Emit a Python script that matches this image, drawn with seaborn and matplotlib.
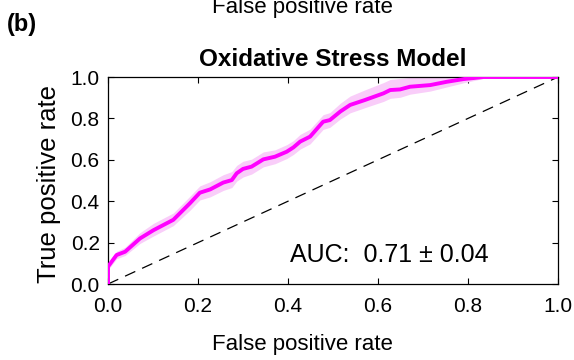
import matplotlib
matplotlib.use("Agg")
import matplotlib.pyplot as plt
import seaborn as sns
import pandas as pd

# Mean ROC curve of the oxidative stress model with its spread across folds
fpr = [0.0, 0.0, 0.019, 0.038, 0.071, 0.101, 0.145, 0.182, 0.204, 0.227, 0.256, 0.275,
       0.286, 0.300, 0.319, 0.345, 0.371, 0.397, 0.412, 0.427, 0.449, 0.478, 0.493,
       0.516, 0.538, 0.571, 0.612, 0.627, 0.649, 0.671, 0.716, 0.753, 0.790, 0.834, 1.0]
tpr = [0.0, 0.084, 0.140, 0.156, 0.220, 0.260, 0.310, 0.390, 0.441, 0.457, 0.490, 0.502,
       0.535, 0.556, 0.567, 0.602, 0.615, 0.639, 0.660, 0.688, 0.712, 0.784, 0.792,
       0.833, 0.865, 0.889, 0.921, 0.937, 0.940, 0.953, 0.961, 0.977, 0.990, 1.0, 1.0]
tpr_low = [0.0, 0.068, 0.122, 0.138, 0.196, 0.232, 0.282, 0.356, 0.406, 0.421, 0.452, 0.466,
           0.497, 0.517, 0.531, 0.566, 0.581, 0.606, 0.626, 0.652, 0.677, 0.747, 0.757,
           0.797, 0.827, 0.852, 0.882, 0.897, 0.902, 0.917, 0.932, 0.952, 0.972, 0.993, 1.0]
tpr_high = [0.0, 0.102, 0.158, 0.178, 0.248, 0.293, 0.343, 0.424, 0.474, 0.494, 0.528, 0.543,
            0.573, 0.593, 0.603, 0.638, 0.648, 0.673, 0.693, 0.723, 0.748, 0.818, 0.828,
            0.873, 0.908, 0.938, 0.973, 0.988, 0.993, 0.998, 1.0, 1.0, 1.0, 1.0, 1.0]
chance = [0.0, 1.0]
auc_mean = 0.71
auc_sd = 0.04
ticks = [0.0, 0.2, 0.4, 0.6, 0.8, 1.0]

sns.set_style("ticks")
plt.rcParams["font.family"] = ["Liberation Sans", "DejaVu Sans"]
plt.rcParams["axes.linewidth"] = 0.9
plt.rcParams["text.color"] = "black"
plt.rcParams["axes.labelcolor"] = "black"

fig = plt.figure(figsize=(5.74, 3.6), dpi=100)
ax = fig.add_axes([0.1882, 0.2111, 0.7840, 0.5750])

roc = pd.DataFrame({"fpr": fpr, "tpr": tpr})
ax.fill_between(fpr, tpr_low, tpr_high, color="#f9cdf9", linewidth=0, zorder=1)
sns.lineplot(x=chance, y=chance, ax=ax, color="black", linewidth=0.9,
             dashes=False, zorder=2).lines[-1].set_dashes([9, 6])
sns.lineplot(data=roc, x="fpr", y="tpr", ax=ax, sort=False, estimator=None,
             color="#ff00ff", linewidth=2.8, zorder=3)

ax.set_xlim(0, 1)
ax.set_ylim(0, 1)
ax.set_xticks(ticks)
ax.set_yticks(ticks)
ax.set_xticklabels([f"{t:.1f}" for t in ticks])
ax.set_yticklabels([f"{t:.1f}" for t in ticks])
ax.tick_params(direction="in", length=4, width=0.8, top=True, right=True,
               labelsize=15, colors="black")
ax.tick_params(axis="x", pad=9)
ax.tick_params(axis="y", pad=6)
for s in ax.spines.values():
    s.set_visible(True)
    s.set_color("black")

ax.set_xlabel("")
ax.set_ylabel("")
fig.text(49 / 574, 1 - 184 / 360, "True positive rate", fontsize=18.5,
         rotation=90, ha="center", va="center")
fig.text(302 / 574, 1 - 350 / 360, "False positive rate", fontsize=16,
         ha="center", va="baseline")
fig.text(333 / 574, 1 - 66.5 / 360, "Oxidative Stress Model", fontsize=17.5,
         fontweight="bold", ha="center", va="baseline")
ax.text((290 - 108) / 450, (284 - 262) / 207, f"AUC:  {auc_mean:.2f} ± {auc_sd:.2f}",
        fontsize=18, transform=ax.transAxes, va="baseline", ha="left")

# panel letter and the axis label of the panel above
fig.text(7 / 574, 1 - 31 / 360, "(b)", fontsize=17, fontweight="bold",
         ha="left", va="baseline")
fig.text(302 / 574, 1 - 13 / 360, "False positive rate", fontsize=16,
         ha="center", va="baseline")

fig.savefig("out.png", dpi=100)
